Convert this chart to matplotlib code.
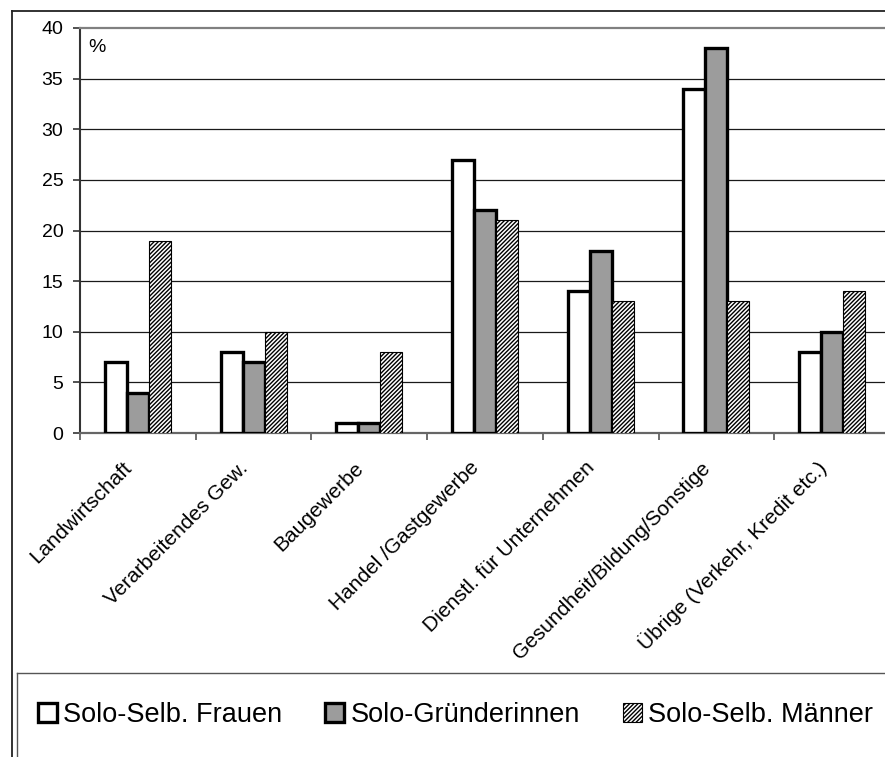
import matplotlib
matplotlib.use("Agg")
import matplotlib.pyplot as plt
import matplotlib.transforms as mtransforms
from matplotlib.lines import Line2D
import numpy as np

plt.rcParams['font.family'] = ['Liberation Sans', 'DejaVu Sans']
plt.rcParams['hatch.linewidth'] = 1.0
plt.rcParams['hatch.color'] = 'black'

categories = ["Landwirtschaft", "Verarbeitendes Gew.", "Baugewerbe",
              "Handel /Gastgewerbe", "Dienstl. für Unternehmen",
              "Gesundheit/Bildung/Sonstige", "Übrige (Verkehr, Kredit etc.)"]
series_names = ["Solo-Selb. Frauen", "Solo-Gründerinnen", "Solo-Selb. Männer"]
frauen = [7, 8, 1, 27, 14, 34, 8]
gruenderinnen = [4, 7, 1, 22, 18, 38, 10]
maenner = [19, 10, 8, 21, 13, 13, 14]
yticks = [0, 5, 10, 15, 20, 25, 30, 35, 40]

W, H = 885, 757
fig = plt.figure(figsize=(W / 100, H / 100), dpi=100)
ax = fig.add_axes([80 / W, 1 - 433 / H, 810 / W, 405 / H])

x = np.arange(len(categories))
bw = 0.19
ax.bar(x - bw, frauen, bw, color='white', edgecolor='black', linewidth=2.4,
       label=series_names[0], zorder=3)
ax.bar(x, gruenderinnen, bw, color='#9c9c9c', edgecolor='black', linewidth=2.4,
       label=series_names[1], zorder=3)
ax.bar(x + bw, maenner, bw, color='white', edgecolor='black', linewidth=0.8,
       hatch='////////', label=series_names[2], zorder=3)

ax.set_xlim(-0.5, len(categories) - 0.5)
ax.set_ylim(0, 40)
ax.set_yticks(yticks)
ax.set_yticklabels([str(v) for v in yticks], fontsize=14)
ax.tick_params(axis='y', direction='out', length=5, width=1.2, pad=7,
               color='#333333')
for v in yticks[1:-1]:
    ax.axhline(v, color='#1a1a1a', linewidth=0.9, zorder=1)

ax.set_xticks(x)
ax.set_xticklabels(categories, fontsize=15, rotation=45, ha='right',
                   va='center', rotation_mode='anchor')
ax.tick_params(axis='x', which='major', length=0, pad=23)
ax.set_xticks(np.arange(-0.5, len(categories), 1.0), minor=True)
ax.tick_params(axis='x', which='minor', direction='out', length=5, width=1.2,
               color='#555555')
offset = mtransforms.ScaledTranslation(-9 / 100, 0, fig.dpi_scale_trans)
for lab in ax.get_xticklabels():
    lab.set_transform(lab.get_transform() + offset)

ax.spines['right'].set_visible(False)
ax.spines['top'].set_color('#808080')
ax.spines['top'].set_linewidth(1.6)
ax.spines['left'].set_color('#333333')
ax.spines['left'].set_linewidth(1.5)
ax.spines['bottom'].set_color('#666666')
ax.spines['bottom'].set_linewidth(1.6)

ax.text(88 / W, 1 - 47 / H, '%', transform=fig.transFigure, fontsize=14,
        va='center', ha='left')

# outer border and legend frame
fig.add_artist(Line2D([11.5 / W, 11.5 / W], [1 - 10.5 / H, 0], color='#222222',
                      linewidth=1.3, transform=fig.transFigure))
fig.add_artist(Line2D([11.5 / W, 1], [1 - 10.5 / H, 1 - 10.5 / H], color='#222222',
                      linewidth=1.3, transform=fig.transFigure))
fig.add_artist(Line2D([16.5 / W, 16.5 / W], [1 - 673 / H, 0], color='#555555',
                      linewidth=1.0, transform=fig.transFigure))
fig.add_artist(Line2D([16.5 / W, 1], [1 - 673 / H, 1 - 673 / H], color='#555555',
                      linewidth=1.0, transform=fig.transFigure))

leg = fig.legend(loc='center left', bbox_to_anchor=(38 / W, 1 - 715 / H),
                 ncol=3, frameon=False, fontsize=19.5, handlelength=0.7,
                 handleheight=0.7, handletextpad=0.22, columnspacing=1.6,
                 borderpad=0, borderaxespad=0)

fig.savefig('out.png', dpi=100)
